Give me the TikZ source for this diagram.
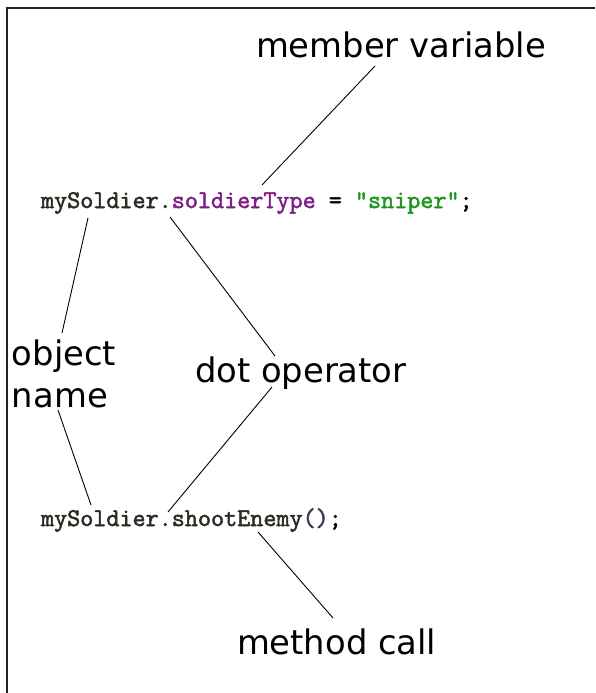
\documentclass[tikz,border=0pt]{standalone}
\usepackage{fontspec}
\setmainfont{DejaVu Sans}
\newfontfamily\codefont[FakeBold=2]{Latin Modern Mono}
\definecolor{codeplain}{HTML}{2E2A24}
\definecolor{codemember}{HTML}{7F1F86}
\definecolor{codestring}{HTML}{1E961E}
\definecolor{codeparen}{HTML}{303A58}
\definecolor{framecol}{HTML}{222222}
\tikzset{
  label/.style={inner sep=0pt,outer sep=0pt,anchor=base west,font=\fontsize{33.8}{34}\selectfont},
  code/.style={inner sep=0pt,outer sep=0pt,anchor=base west,font=\codefont\fontsize{25.4}{26}\selectfont,text=codeplain},
  pointer/.style={draw=black,line width=0.9pt}
}
\begin{document}
\begin{tikzpicture}[x=1pt,y=-1pt]
\useasboundingbox (0,0) rectangle (595,693);
\fill[white] (0,0) rectangle (595,693);
\draw[framecol,line width=1.4pt] (7,693) -- (7,8) -- (595,8);

% labels
\node[label] (member) at (256,57) {member variable};
\node[label] (object) at (12,365) {object};
\node[label] (name) at (12,407) {name};
\node[label] (dotop) at (195,382) {dot operator};
\node[label] (method) at (237,654) {method call};

% code
\node[code] (code1) at (41,208) {mySoldier.{\color{codemember}soldierType}{\color{black}\ =\ }{\color{codestring}"sniper"}{\color{black};}};
\node[code] (code2) at (41,526) {mySoldier.shootEnemy{\color{codeparen}()}{\color{black};}};

% connector end points
\coordinate (memberTop) at (375,66);
\coordinate (memberBot) at (262,185);
\coordinate (objTop1) at (88,218);
\coordinate (objBot1) at (62,333);
\coordinate (nameTop) at (58,410);
\coordinate (nameBot) at (91,505);
\coordinate (dotTop1) at (170,217);
\coordinate (dotBot1) at (275,356);
\coordinate (dotTop2) at (272,387);
\coordinate (dotBot2) at (168,512);
\coordinate (methTop) at (258,532);
\coordinate (methBot) at (333,618);

\draw[pointer] (memberTop) -- (memberBot);
\draw[pointer] (objTop1) -- (objBot1);
\draw[pointer] (nameTop) -- (nameBot);
\draw[pointer] (dotTop1) -- (dotBot1);
\draw[pointer] (dotTop2) -- (dotBot2);
\draw[pointer] (methTop) -- (methBot);
\end{tikzpicture}
\end{document}
